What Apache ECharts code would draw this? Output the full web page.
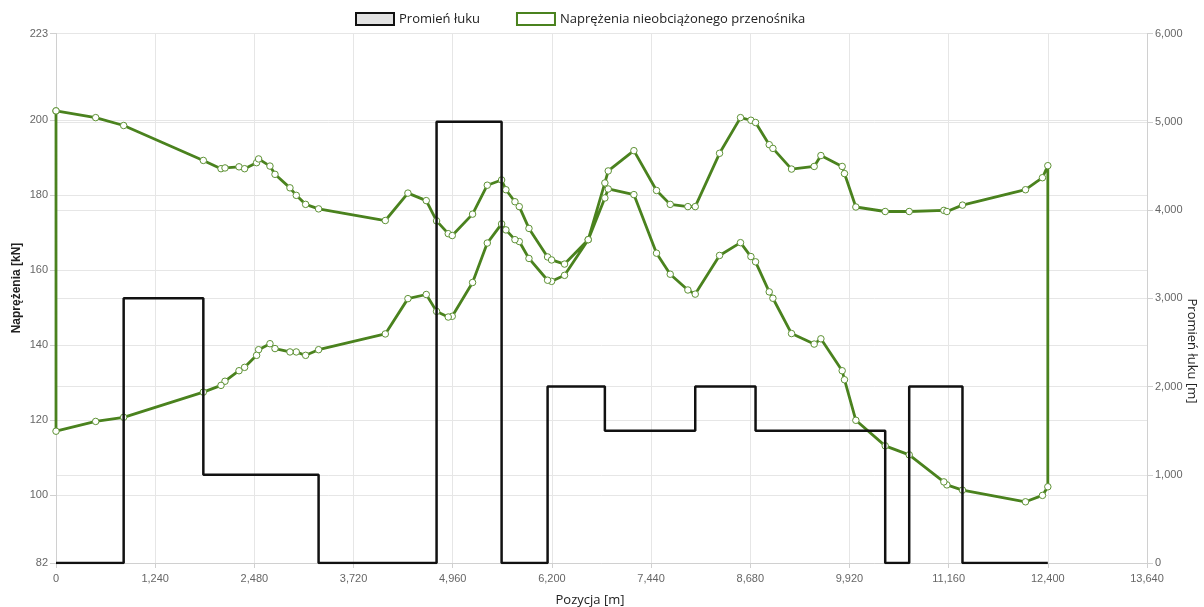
<!DOCTYPE html>
<html>
<head>
<meta charset="utf-8">
<script src="https://cdn.jsdelivr.net/npm/echarts@6/dist/echarts.min.js"></script>
<style>
html,body{margin:0;padding:0;background:#fff;}
#chart{width:1204px;height:607px;}
</style>
</head>
<body>
<div id="chart"></div>
<script>
// ---- data ----
const positions = [0, 496, 846, 1842, 2063, 2113, 2288, 2358, 2508, 2533, 2675, 2738, 2925, 3004, 3121, 3283, 4117, 4400, 4629, 4758, 4904, 4954, 5208, 5392, 5571, 5625, 5738, 5792, 5913, 6146, 6196, 6358, 6654, 6862, 6904, 7225, 7508, 7679, 7900, 7992, 8296, 8558, 8688, 8746, 8917, 8963, 9196, 9479, 9563, 9829, 9858, 10000, 10367, 10667, 11100, 11138, 11333, 12121, 12333, 12400];
const upperTension = [202.4, 200.6, 198.5, 189.2, 187.0, 187.2, 187.5, 187.0, 188.6, 189.6, 187.7, 185.5, 181.9, 179.9, 177.5, 176.3, 173.2, 180.5, 178.5, 173.1, 169.7, 169.2, 174.9, 182.6, 184.0, 181.4, 178.2, 176.9, 171.1, 163.5, 162.7, 161.6, 168.1, 183.2, 186.4, 191.8, 181.2, 177.5, 176.9, 176.9, 191.1, 200.6, 199.9, 199.3, 193.4, 192.4, 186.9, 187.6, 190.5, 187.6, 185.7, 176.8, 175.6, 175.6, 175.9, 175.6, 177.3, 181.4, 184.6, 187.8];
const lowerTension = [117.1, 119.7, 120.8, 127.5, 129.3, 130.4, 133.2, 134.1, 137.3, 138.8, 140.4, 139.1, 138.2, 138.2, 137.3, 138.8, 143.0, 152.4, 153.5, 149.0, 147.5, 147.7, 156.7, 167.2, 172.3, 170.7, 168.1, 167.6, 163.1, 157.3, 157.0, 158.6, 168.1, 179.2, 181.6, 180.1, 164.5, 158.9, 154.7, 153.6, 163.9, 167.3, 163.6, 162.2, 154.2, 152.5, 143.1, 140.3, 141.7, 133.2, 130.8, 120.0, 113.2, 110.8, 103.6, 102.8, 101.4, 98.3, 100.0, 102.3];
const radiusStarts = [0, 846, 1842, 3283, 4758, 5571, 6146, 6862, 7992, 8746, 10367, 10667, 11333, 12400];
const radiusValues = [0, 3000, 1000, 0, 5000, 0, 2000, 1500, 2000, 1500, 0, 2000, 0, 0];
const leftTicks = [82, 100, 120, 140, 160, 180, 200, 223];
const xInterval = 1240;
const xMax = 13640;
const rightInterval = 1000;
const rightMax = 6000;

// ---- build series data ----
const tensionLoop = [];
for (let i = 0; i < positions.length; i++) tensionLoop.push([positions[i], upperTension[i]]);
for (let i = positions.length - 1; i >= 0; i--) tensionLoop.push([positions[i], lowerTension[i]]);
tensionLoop.push([positions[0], upperTension[0]]);
const radiusData = radiusStarts.map((x, i) => [x, radiusValues[i]]);

const GREEN = '#4a821e';
const fmt = v => Number(v).toLocaleString('en-US');
const labelStyle = {color: '#666', fontSize: 11, fontFamily: 'Liberation Sans, Arial, sans-serif'};

const chart = echarts.init(document.getElementById('chart'), null, {renderer: 'canvas'});
chart.setOption({
  animation: false,
  backgroundColor: '#fff',
  textStyle: {fontFamily: 'Open Sans, sans-serif'},
  legend: {
    top: 7,
    left: 350,
    itemWidth: 38,
    itemHeight: 12,
    itemGap: 36,
    textStyle: {fontSize: 13, color: '#222', fontFamily: 'Open Sans, sans-serif'},
    data: [
      {name: 'Promień łuku', icon: 'rect', itemStyle: {color: '#e2e2e2', borderColor: '#111', borderWidth: 2}},
      {name: 'Naprężenia nieobciążonego przenośnika', icon: 'rect', itemStyle: {color: '#fff', borderColor: GREEN, borderWidth: 2}}
    ]
  },
  grid: {left: 56, right: 57, top: 33.5, bottom: 44, containLabel: false},
  xAxis: {
    type: 'value', min: 0, max: xMax, interval: xInterval,
    axisLine: {show: true, lineStyle: {color: '#d0d0d0'}},
    axisTick: {show: true, length: 5, lineStyle: {color: '#d0d0d0'}},
    axisLabel: Object.assign({formatter: fmt, margin: 10}, labelStyle),
    splitLine: {show: true, lineStyle: {color: '#e6e6e6'}}
  },
  yAxis: [
    {
      type: 'value', min: 82, max: 223, position: 'left',
      axisLine: {show: true, lineStyle: {color: '#d0d0d0'}},
      axisTick: {show: true, length: 6, customValues: leftTicks, lineStyle: {color: '#d0d0d0'}},
      axisLabel: Object.assign({customValues: leftTicks, margin: 8}, labelStyle),
      splitLine: {show: true, lineStyle: {color: '#e6e6e6'}}
    },
    {
      type: 'value', min: 0, max: rightMax, interval: rightInterval, position: 'right',
      axisLine: {show: true, lineStyle: {color: '#d0d0d0'}},
      axisTick: {show: true, length: 6, lineStyle: {color: '#d0d0d0'}},
      axisLabel: Object.assign({formatter: fmt, margin: 8}, labelStyle),
      splitLine: {show: true, lineStyle: {color: '#e6e6e6'}}
    }
  ],
  graphic: [
    {type: 'text', x: 17, y: 288, rotation: Math.PI / 2,
     style: {text: 'Naprężenia [kN]', fill: '#222', font: 'bold 12px "Liberation Sans", Arial, sans-serif', textAlign: 'center', textVerticalAlign: 'middle'}},
    {type: 'text', x: 1192, y: 351, rotation: -Math.PI / 2,
     style: {text: 'Promień łuku [m]', fill: '#222', font: '13px "Open Sans", sans-serif', textAlign: 'center', textVerticalAlign: 'middle'}},
    {type: 'text', x: 590, y: 600,
     style: {text: 'Pozycja [m]', fill: '#222', font: '13px "Open Sans", sans-serif', textAlign: 'center', textVerticalAlign: 'middle'}}
  ],
  series: [
    {
      name: 'Naprężenia nieobciążonego przenośnika',
      type: 'line', yAxisIndex: 0,
      data: tensionLoop,
      symbol: 'circle', symbolSize: 6.5, showAllSymbol: true,
      lineStyle: {color: GREEN, width: 2.8},
      itemStyle: {color: '#fff', borderColor: '#5e9235', borderWidth: 1},
      clip: true, z: 2
    },
    {
      name: 'Promień łuku',
      type: 'line', yAxisIndex: 1, step: 'end',
      data: radiusData,
      symbol: 'none',
      lineStyle: {color: '#111', width: 2.5},
      itemStyle: {color: '#111'},
      z: 3
    }
  ]
});
</script>
</body>
</html>
